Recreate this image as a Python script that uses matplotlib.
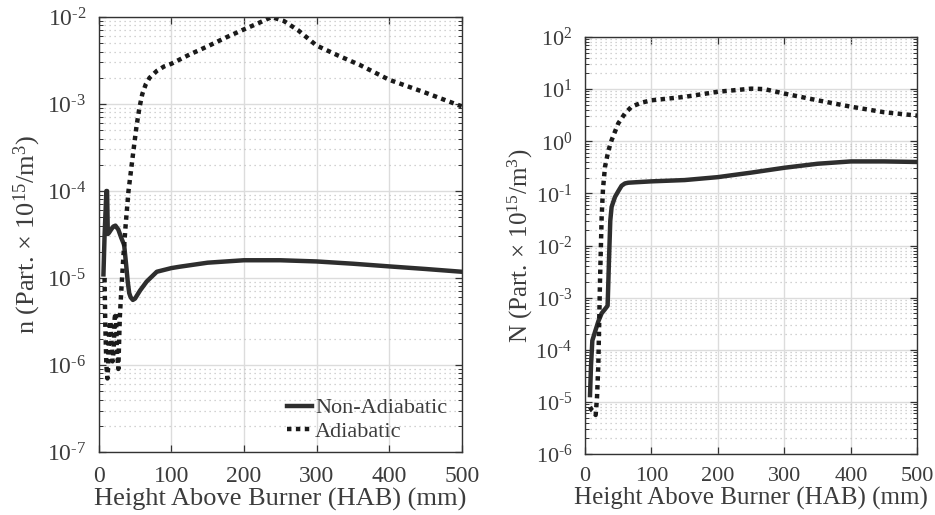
import math
import matplotlib
matplotlib.use("Agg")
import matplotlib.pyplot as plt
from matplotlib.ticker import LogLocator, FixedLocator, NullFormatter, FuncFormatter

plt.rcParams['font.family'] = ['Liberation Serif', 'DejaVu Serif']
plt.rcParams['mathtext.fontset'] = 'custom'
plt.rcParams['mathtext.rm'] = 'Liberation Serif'
plt.rcParams['mathtext.it'] = 'Liberation Serif:italic'
plt.rcParams['mathtext.bf'] = 'Liberation Serif:bold'

TXT = '#3c3c3c'

# ---- Data: left panel (n) ----
n_na_x = [6.5, 8, 10.5, 11.5, 12.5, 14, 17, 20, 23, 27, 31, 35, 38, 40, 42, 44, 47,
          50, 57, 66, 80, 100, 112, 150, 200, 250, 300, 350, 400, 450, 500]
n_na_y = [1.1e-5, 3e-5, 1.0e-4, 1.0e-4, 3.2e-5, 3.3e-5, 3.6e-5, 3.9e-5, 4.0e-5, 3.6e-5,
          2.9e-5, 2.4e-5, 1.35e-5, 9e-6, 6.7e-6, 6.0e-6, 5.6e-6,
          5.8e-6, 7.2e-6, 9.1e-6, 1.18e-5, 1.3e-5, 1.35e-5, 1.5e-5, 1.6e-5, 1.6e-5,
          1.55e-5, 1.46e-5, 1.36e-5, 1.27e-5, 1.18e-5]

n_ad_x = [8, 9, 10.5, 12, 13, 14.5, 16, 17.5, 19, 20.5, 22, 23.5, 25, 27, 29, 31, 34,
          37, 41, 44, 48, 52, 56, 60, 65, 70, 80, 90, 100, 125, 150, 175, 200, 220,
          238, 255, 275, 300, 330, 360, 400, 450, 500]
n_ad_y = [1e-5, 3e-6, 1e-6, 7e-7, 1e-6, 2.5e-6, 3.2e-6, 2e-6, 1.1e-6, 1.5e-6, 3.5e-6,
          4e-6, 1.5e-6, 9e-7, 3.5e-6, 7e-6, 1.8e-5,
          4e-5, 1e-4, 1.6e-4, 3e-4, 5.5e-4, 9e-4, 1.3e-3, 1.7e-3, 2e-3, 2.4e-3, 2.7e-3,
          2.9e-3, 3.7e-3, 4.6e-3, 5.8e-3, 7.2e-3, 8.5e-3,
          1e-2, 9e-3, 7e-3, 4.7e-3, 3.6e-3, 2.8e-3, 1.9e-3, 1.35e-3, 9.4e-4]

# ---- Data: right panel (N) ----
N_na_x = [7.5, 9, 11, 15, 20, 25, 30, 34, 36, 38, 40, 45, 50, 55, 60, 65, 75, 100,
          150, 200, 250, 300, 350, 400, 450, 500]
N_na_y = [1.35e-5, 5e-5, 1.5e-4, 2.2e-4, 3.5e-4, 5e-4, 6e-4, 7e-4, 5e-3, 3e-2, 5.5e-2,
          8.5e-2, 0.11, 0.14, 0.155, 0.16, 0.163, 0.17, 0.18, 0.205, 0.25, 0.31, 0.37,
          0.41, 0.41, 0.40]

N_ad_x = [7.5, 10, 13, 16, 18, 20, 22.5, 25, 27, 30, 35, 40, 50, 60, 70, 85, 100, 150,
          200, 250, 270, 300, 350, 400, 450, 500]
N_ad_y = [8e-6, 7e-6, 6.5e-6, 5.6e-6, 1.2e-5, 5e-5, 2e-3, 3.5e-2, 0.12, 0.32, 0.65,
          1.05, 2.2, 3.4, 4.6, 5.5, 6.1, 7.1, 8.9, 10.2, 10.0, 8.2, 6.1, 4.6, 3.6, 3.1]

x_ticks = [0, 100, 200, 300, 400, 500]
labels = ['Non-Adiabatic', 'Adiabatic']
xlabel = 'Height Above Burner (HAB) (mm)'
ylabel_left = r'n (Part. $\times$ 10$^{15}$/m$^{3}$)'
ylabel_right = r'N (Part. $\times$ 10$^{15}$/m$^{3}$)'

fig = plt.figure(figsize=(9.35, 5.15), dpi=100)
ax1 = fig.add_axes([0.1056, 0.1223, 0.3882, 0.8447])
ax2 = fig.add_axes([0.6257, 0.1184, 0.3554, 0.8098])

LINE = '#2e2e2e'


def fmt(v, pos):
    e = int(round(math.log10(v)))
    if e < 0:
        return r'$\mathregular{10^{\text{-}%d}}$' % (-e)
    return r'$\mathregular{10^{%d}}$' % e


def style(ax, ylo, yhi, label_y, tick_fs, label_fs, xpad):
    ax.set_yscale('log')
    ax.set_xlim(0, 500)
    ax.set_ylim(ylo, yhi)
    ax.xaxis.set_major_locator(FixedLocator(x_ticks))
    ax.yaxis.set_major_locator(LogLocator(base=10, numticks=20))
    ax.yaxis.set_minor_locator(LogLocator(base=10, subs=range(2, 10), numticks=20))
    ax.yaxis.set_minor_formatter(NullFormatter())
    ax.yaxis.set_major_formatter(FuncFormatter(fmt))
    ax.grid(True, which='major', axis='both', color='#dcdcdc', lw=1.0, ls='-')
    ax.grid(True, which='minor', axis='y', color='#c4c4c4', lw=0.9, ls=(0, (1, 3)))
    ax.set_axisbelow(True)
    ax.tick_params(which='both', direction='in', top=True, right=True,
                   colors='#333333', labelcolor=TXT, labelsize=tick_fs)
    ax.tick_params(which='major', length=5, width=0.9)
    ax.tick_params(which='minor', length=3, width=0.7)
    ax.tick_params(axis='y', pad=9)
    ax.tick_params(axis='x', pad=xpad)
    for s in ax.spines.values():
        s.set_color('#333333')
        s.set_linewidth(1.0)
    lab = ax.set_xlabel(xlabel, fontsize=label_fs, color=TXT)
    lab.set_va('baseline')
    ax.xaxis.set_label_coords(0.5, label_y)


style(ax1, 1e-7, 1e-2, -(506 - 452) / 435, 17, 19, 10)
ax1.plot(n_na_x, n_na_y, color=LINE, lw=3.2, ls='-', label=labels[0])
ax1.plot(n_ad_x, n_ad_y, color='#1a1a1a', lw=3.2, ls=(0, (1, 1)), label=labels[1])
ax1.set_ylabel(ylabel_left, fontsize=19, color=TXT, labelpad=3)
leg = ax1.legend(loc='lower right', frameon=False, fontsize=16, handlelength=1.1,
                 handletextpad=0.15, labelspacing=0.15, borderaxespad=0.0,
                 bbox_to_anchor=(0.985, 0.002))
for t in leg.get_texts():
    t.set_color(TXT)

style(ax2, 1e-6, 1e2, -(505 - 454) / 417, 16, 18, 9)
ax2.plot(N_na_x, N_na_y, color=LINE, lw=3.2, ls='-')
ax2.plot(N_ad_x, N_ad_y, color='#1a1a1a', lw=3.2, ls=(0, (1, 1)))
ax2.set_ylabel(ylabel_right, fontsize=18, color=TXT, labelpad=0)

fig.savefig('out.png', dpi=100, facecolor='white')
